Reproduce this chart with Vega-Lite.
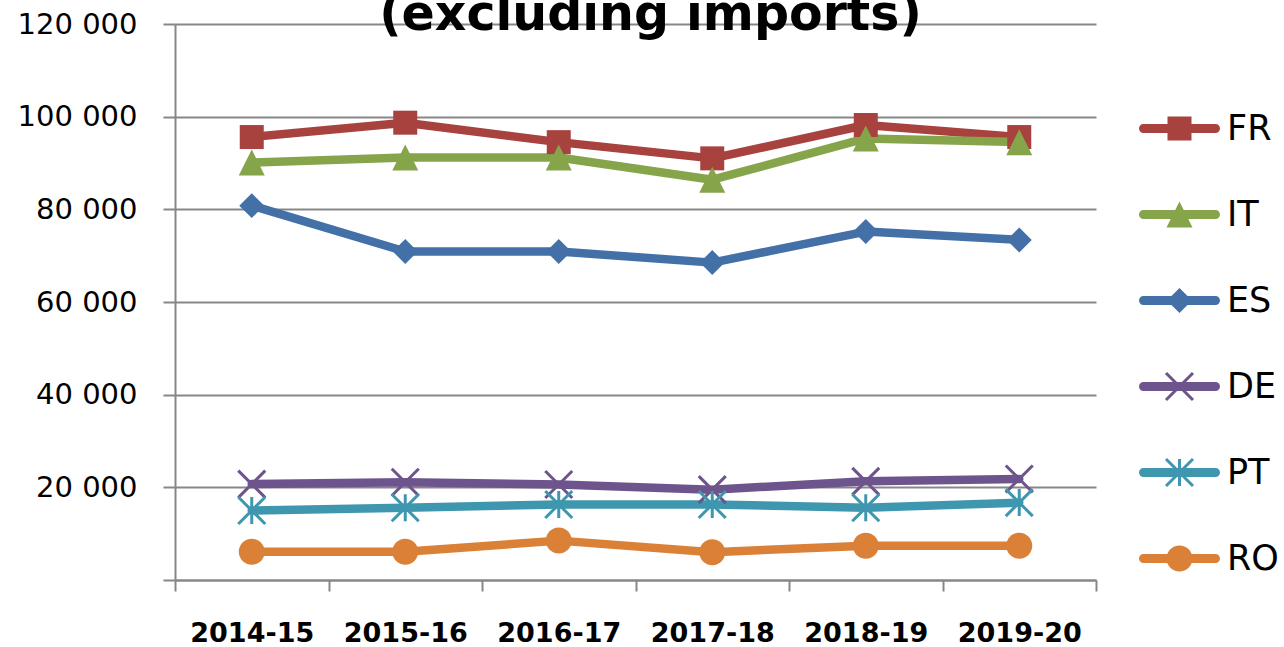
{
  "$schema": "https://vega.github.io/schema/vega-lite/v6.json",
  "autosize": {"type": "none"},
  "padding": {"left": 175, "top": 24, "right": 188, "bottom": 67},
  "width": 921,
  "height": 556,
  "background": "white",
  "title": {
    "text": "(excluding imports)",
    "font": "DejaVu Sans",
    "fontSize": 49,
    "fontWeight": "bold",
    "color": "#000000",
    "anchor": "middle",
    "frame": "group",
    "baseline": "alphabetic",
    "dx": 15,
    "offset": -69
  },
  "data": {
    "values": [
      {"season": "2014-15", "country": "FR", "value": 95600},
      {"season": "2015-16", "country": "FR", "value": 98700},
      {"season": "2016-17", "country": "FR", "value": 94500},
      {"season": "2017-18", "country": "FR", "value": 91000},
      {"season": "2018-19", "country": "FR", "value": 98200},
      {"season": "2019-20", "country": "FR", "value": 95600},
      {"season": "2014-15", "country": "IT", "value": 90100},
      {"season": "2015-16", "country": "IT", "value": 91200},
      {"season": "2016-17", "country": "IT", "value": 91200},
      {"season": "2017-18", "country": "IT", "value": 86400},
      {"season": "2018-19", "country": "IT", "value": 95300},
      {"season": "2019-20", "country": "IT", "value": 94500},
      {"season": "2014-15", "country": "ES", "value": 80800},
      {"season": "2015-16", "country": "ES", "value": 70900},
      {"season": "2016-17", "country": "ES", "value": 70900},
      {"season": "2017-18", "country": "ES", "value": 68500},
      {"season": "2018-19", "country": "ES", "value": 75200},
      {"season": "2019-20", "country": "ES", "value": 73400},
      {"season": "2014-15", "country": "DE", "value": 20700},
      {"season": "2015-16", "country": "DE", "value": 21100},
      {"season": "2016-17", "country": "DE", "value": 20600},
      {"season": "2017-18", "country": "DE", "value": 19500},
      {"season": "2018-19", "country": "DE", "value": 21300},
      {"season": "2019-20", "country": "DE", "value": 21800},
      {"season": "2014-15", "country": "PT", "value": 15000},
      {"season": "2015-16", "country": "PT", "value": 15600},
      {"season": "2016-17", "country": "PT", "value": 16300},
      {"season": "2017-18", "country": "PT", "value": 16300},
      {"season": "2018-19", "country": "PT", "value": 15600},
      {"season": "2019-20", "country": "PT", "value": 16700},
      {"season": "2014-15", "country": "RO", "value": 6100},
      {"season": "2015-16", "country": "RO", "value": 6100},
      {"season": "2016-17", "country": "RO", "value": 8500},
      {"season": "2017-18", "country": "RO", "value": 6000},
      {"season": "2018-19", "country": "RO", "value": 7400},
      {"season": "2019-20", "country": "RO", "value": 7400}
    ]
  },
  "encoding": {
    "x": {
      "field": "season",
      "type": "nominal",
      "sort": null,
      "scale": {"type": "band", "paddingInner": 0, "paddingOuter": 0},
      "axis": {
        "title": null,
        "tickBand": "extent",
        "grid": false,
        "labelAngle": 0,
        "labelFont": "DejaVu Sans",
        "labelFontWeight": "bold",
        "labelFontSize": 27,
        "labelColor": "#000000",
        "labelPadding": 29,
        "tickSize": 11,
        "tickColor": "#878787",
        "tickWidth": 2,
        "domainColor": "#878787",
        "domainWidth": 2
      }
    },
    "y": {
      "field": "value",
      "type": "quantitative",
      "scale": {"domain": [0, 120000], "nice": false, "zero": true},
      "axis": {
        "title": null,
        "values": [0, 20000, 40000, 60000, 80000, 100000, 120000],
        "labelExpr": "datum.value == 0 ? '' : replace(format(datum.value, ','), ',', ' ')",
        "labelFont": "DejaVu Sans",
        "labelFontSize": 29,
        "labelColor": "#000000",
        "labelPadding": 26,
        "tickSize": 12,
        "tickColor": "#878787",
        "tickWidth": 2,
        "domainColor": "#878787",
        "domainWidth": 2,
        "grid": true,
        "gridColor": "#878787",
        "gridWidth": 2
      }
    },
    "color": {
      "field": "country",
      "type": "nominal",
      "scale": {
        "domain": ["FR", "IT", "ES", "DE", "PT", "RO"],
        "range": ["#A8423F", "#86A44A", "#4470A8", "#6E548D", "#3E97AF", "#DA8137"]
      },
      "legend": {
        "title": null,
        "orient": "none",
        "legendX": 987,
        "legendY": 87,
        "padding": 0,
        "symbolSize": 900,
        "symbolStrokeWidth": 0,
        "labelFont": "DejaVu Sans",
        "labelFontSize": 35,
        "labelColor": "#000000",
        "labelOffset": 30,
        "labelLimit": 0,
        "rowPadding": 50,
        "encode": {
          "symbols": {
            "update": {
              "fill": {"scale": "color", "field": "value"},
              "fillOpacity": {"value": 1},
              "stroke": {"value": "transparent"},
              "strokeWidth": {"value": 0},
              "shape": {"signal": "datum.value === 'FR' ? 'M-2.4,-0.3H2.4A0.3,0.3,0,0,1,2.4,0.3H-2.4A0.3,0.3,0,0,1,-2.4,-0.3ZM-0.8,-0.8H0.8V0.8H-0.8Z' : datum.value === 'IT' ? 'M-2.4,-0.3H2.4A0.3,0.3,0,0,1,2.4,0.3H-2.4A0.3,0.3,0,0,1,-2.4,-0.3ZM0,-0.867L0.867,0.867L-0.867,0.867Z' : datum.value === 'ES' ? 'M-2.4,-0.3H2.4A0.3,0.3,0,0,1,2.4,0.3H-2.4A0.3,0.3,0,0,1,-2.4,-0.3ZM0,-0.833L0.833,0L0,0.833L-0.833,0Z' : datum.value === 'DE' ? 'M-2.4,-0.3H2.4A0.3,0.3,0,0,1,2.4,0.3H-2.4A0.3,0.3,0,0,1,-2.4,-0.3ZM-0.829,-0.971L0.971,0.829L0.829,0.971L-0.971,-0.829ZM-0.829,0.971L-0.971,0.829L0.829,-0.971L0.971,-0.829Z' : datum.value === 'PT' ? 'M-2.4,-0.3H2.4A0.3,0.3,0,0,1,2.4,0.3H-2.4A0.3,0.3,0,0,1,-2.4,-0.3ZM-0.829,-0.971L0.971,0.829L0.829,0.971L-0.971,-0.829ZM-0.829,0.971L-0.971,0.829L0.829,-0.971L0.971,-0.829ZM-0.1,-0.9H0.1V0.9H-0.1Z' : 'M-2.4,-0.3H2.4A0.3,0.3,0,0,1,2.4,0.3H-2.4A0.3,0.3,0,0,1,-2.4,-0.3ZM0.867,0A0.867,0.867,0,1,1,-0.867,0A0.867,0.867,0,1,1,0.867,0Z'"}
            }
          }
        }
      }
    }
  },
  "layer": [
    {
      "mark": {"type": "line", "strokeWidth": 8.5, "strokeCap": "round", "strokeJoin": "round"}
    },
    {
      "transform": [{"filter": "datum.country === 'FR'"}],
      "mark": {"type": "point", "filled": true, "size": 900, "opacity": 1, "strokeWidth": 0, "shape": "M-0.8,-0.8H0.8V0.8H-0.8Z"}
    },
    {
      "transform": [{"filter": "datum.country === 'IT'"}],
      "mark": {"type": "point", "filled": true, "size": 900, "opacity": 1, "strokeWidth": 0, "shape": "M0,-0.867L0.867,0.867L-0.867,0.867Z"}
    },
    {
      "transform": [{"filter": "datum.country === 'ES'"}],
      "mark": {"type": "point", "filled": true, "size": 900, "opacity": 1, "strokeWidth": 0, "shape": "M0,-0.833L0.833,0L0,0.833L-0.833,0Z"}
    },
    {
      "transform": [{"filter": "datum.country === 'DE'"}],
      "mark": {"type": "point", "filled": true, "size": 900, "opacity": 1, "strokeWidth": 0, "shape": "M-0.829,-0.971L0.971,0.829L0.829,0.971L-0.971,-0.829ZM-0.829,0.971L-0.971,0.829L0.829,-0.971L0.971,-0.829Z"}
    },
    {
      "transform": [{"filter": "datum.country === 'PT'"}],
      "mark": {"type": "point", "filled": true, "size": 900, "opacity": 1, "strokeWidth": 0, "shape": "M-0.829,-0.971L0.971,0.829L0.829,0.971L-0.971,-0.829ZM-0.829,0.971L-0.971,0.829L0.829,-0.971L0.971,-0.829ZM-0.1,-0.9H0.1V0.9H-0.1Z"}
    },
    {
      "transform": [{"filter": "datum.country === 'RO'"}],
      "mark": {"type": "point", "filled": true, "size": 900, "opacity": 1, "strokeWidth": 0, "shape": "M0.867,0A0.867,0.867,0,1,1,-0.867,0A0.867,0.867,0,1,1,0.867,0Z"}
    }
  ],
  "config": {
    "view": {"stroke": null}
  }
}
